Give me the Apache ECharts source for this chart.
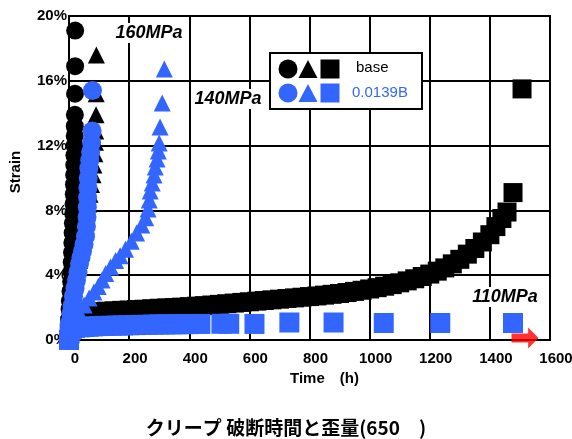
<!DOCTYPE html>
<html><head><meta charset="utf-8">
<script src="https://cdn.jsdelivr.net/npm/echarts@6/dist/echarts.min.js"></script>
<style>html,body{margin:0;padding:0;background:#fff}#c{width:572px;height:439px}</style>
</head><body><div id="c"></div>
<script>
// ---- data: [time (h), strain (%)] ----
const base160 = [[0,0],[0.5,0.7],[1,1.3],[2,1.9],[3,2.4],[5,3.0],[7,3.6],[8,4.2],[9,4.8],[10,5.4],[11,6.0],[12,6.6],[13,7.2],[14,7.8],[15,8.4],[16,9.0],[16.5,9.6],[17,10.2],[17.5,10.8],[18,11.4],[18.5,12.0],[19,12.6],[19.3,13.2],[19.6,13.9],[20,15.2],[20.3,16.9],[20.5,19.1]];
const base140 = [[0,0],[1,0.8],[3,1.4],[6,1.9],[10,2.4],[15,2.9],[20,3.4],[25,3.9],[30,4.4],[35,4.9],[40,5.4],[45,6.0],[50,6.6],[55,7.2],[60,7.8],[65,8.4],[70,9.0],[75,9.6],[80,10.2],[83,10.8],[86,11.5],[88,12.2],[89,12.9],[90,13.9],[90.5,15.2],[91,17.6]];
const base110 = [[0,0],[3,0.9],[8,1.3],[15,1.5],[25,1.6],[40,1.65],[60,1.7],[80,1.72],[100,1.75],[125,1.78],[150,1.8],[175,1.83],[200,1.85],[225,1.88],[250,1.9],[275,1.93],[300,1.96],[325,1.98],[350,2.0],[375,2.03],[400,2.06],[425,2.09],[450,2.12],[475,2.16],[500,2.2],[525,2.24],[550,2.28],[575,2.32],[600,2.36],[625,2.4],[650,2.44],[675,2.48],[700,2.52],[725,2.56],[750,2.6],[775,2.64],[800,2.68],[825,2.72],[850,2.77],[875,2.82],[900,2.87],[925,2.93],[950,3.0],[975,3.07],[1000,3.15],[1025,3.23],[1050,3.32],[1075,3.42],[1100,3.53],[1125,3.65],[1150,3.78],[1175,3.92],[1200,4.07],[1225,4.25],[1250,4.45],[1275,4.7],[1300,4.98],[1325,5.3],[1350,5.65],[1375,6.05],[1400,6.5],[1420,7.0],[1440,7.5],[1457,7.9],[1477,9.1],[1507,15.5]];
const b160 = [[0,0],[1,0.6],[3,1.1],[6,1.6],[10,2.1],[15,2.7],[20,3.2],[25,3.7],[30,4.2],[35,4.7],[40,5.1],[45,5.5],[50,5.9],[55,6.4],[58,7.0],[60,7.6],[61,8.2],[62,8.8],[63,9.4],[64,10.0],[66,10.6],[69,11.1],[72,11.6],[75,12.2],[77,12.9],[78,15.4]];
const b140 = [[0,0],[2,0.7],[5,1.2],[10,1.5],[20,1.7],[33,1.73],[50,2.16],[67,2.6],[83,2.96],[97,3.3],[110,3.7],[122,4.1],[138,4.5],[155,4.9],[170,5.2],[188,5.6],[207,6.1],[225,6.6],[242,7.1],[255,7.55],[263,8.09],[267,8.64],[270,9.2],[277,9.69],[283,10.19],[287,10.68],[293,11.17],[297,11.67],[300,12.16],[303,13.15],[310,14.63],[317,16.73]];
const b110 = [[0,0],[2,0.4],[5,0.6],[10,0.7],[20,0.75],[35,0.78],[50,0.8],[65,0.82],[80,0.84],[100,0.86],[120,0.87],[140,0.88],[160,0.89],[180,0.9],[200,0.91],[220,0.92],[240,0.93],[260,0.94],[280,0.95],[300,0.96],[320,0.96],[340,0.97],[360,0.97],[380,0.98],[400,0.98],[437,0.99],[507,1.0],[533,1.0],[617,0.99],[733,1.08],[880,1.08],[1047,1.05],[1235,1.05],[1477,1.05]];
const ongoing = [[1517,0.12]];
const xTicks = {min:0, max:1600, step:200};
const yTicks = {min:0, max:20, step:4};
const stressLabels = ['160MPa','140MPa','110MPa'];
const legendNames = ['base','0.0139B'];

const BLUE = '#3366FF';
const chart = echarts.init(document.getElementById('c'));
function sc(name, data, symbol, size, color, z){
  return {name, type:'scatter', data, symbol, symbolSize:size, itemStyle:{color, opacity:1}, z, silent:true, clip:false};
}
const bold = {fontFamily:'Liberation Sans, Arial, sans-serif', fontWeight:'bold', color:'#000'};
const ann = (t, x, y) => ({type:'text', x, y, z:50, style:{text:t, fontFamily:'Liberation Sans, Arial, sans-serif', fontWeight:'bold', fontStyle:'italic', fontSize:18, fill:'#000', backgroundColor:'#fff', padding:[1,2], align:'center', verticalAlign:'middle'}});
const leg = (sym, cx, cy, color) => {
  if (sym==='circle') return {type:'circle', shape:{cx, cy, r:9.5}, style:{fill:color}, z:61};
  if (sym==='rect') return {type:'rect', shape:{x:cx-9.5, y:cy-9.5, width:19, height:19}, style:{fill:color}, z:61};
  return {type:'polygon', shape:{points:[[cx,cy-9],[cx+9.5,cy+9],[cx-9.5,cy+9]]}, style:{fill:color}, z:61};
};
chart.setOption({
  animation:false,
  backgroundColor:'#fff',
  title:{text:'クリープ 破断時間と歪量(650　)', left:'center', top:413,
    textStyle:{fontFamily:'Noto Sans CJK JP, sans-serif', fontWeight:'bold', fontSize:19, color:'#000'}},
  grid:{left:69, right:22, top:16, bottom:99, show:true, borderColor:'#000', borderWidth:2, backgroundColor:'#fff', outerBoundsMode:'none', containLabel:false},
  xAxis:{type:'value', min:xTicks.min, max:xTicks.max, interval:xTicks.step,
    name:'Time　(h)', nameLocation:'middle', nameGap:30,
    nameTextStyle:Object.assign({fontSize:15, padding:[0,0,0,30]}, bold),
    axisLine:{lineStyle:{color:'#000', width:2}}, axisTick:{show:false},
    axisLabel:Object.assign({margin:11, fontSize:15, padding:[0,0,0,12], formatter:v => String(v), hideOverlap:false}, bold),
    splitLine:{lineStyle:{color:'#000', width:2}}},
  yAxis:{type:'value', min:yTicks.min, max:yTicks.max, interval:yTicks.step,
    name:'Strain', nameLocation:'middle', nameGap:46, nameRotate:90,
    nameTextStyle:Object.assign({fontSize:15, padding:[0,0,0,12]}, bold),
    axisLine:{lineStyle:{color:'#000', width:2}}, axisTick:{show:false},
    axisLabel:Object.assign({margin:2, fontSize:15, formatter:'{value}%', padding:[10,0,0,0]}, bold),
    splitLine:{lineStyle:{color:'#000', width:2}}},
  series:[
    sc('base 110', base110, 'rect', 19, '#000', 2),
    sc('base 140', base140, 'triangle', 17, '#000', 3),
    sc('base 160', base160, 'circle', 18, '#000', 4),
    sc('B 110', b110, 'rect', 20, BLUE, 5),
    sc('B 140', b140, 'triangle', 17, BLUE, 6),
    sc('B 160', b160, 'circle', 19, BLUE, 7),
    {type:'scatter', data:ongoing, symbol:'path://M0,6 L16,6 L16,0 L26,10.5 L16,21 L16,15 L0,15 Z', symbolSize:[27,21], itemStyle:{color:'#FF0000'}, z:8, silent:true, clip:false}
  ],
  graphic:[
    ann(stressLabels[0], 149, 33),
    ann(stressLabels[1], 228, 99),
    ann(stressLabels[2], 505, 297),
    {type:'rect', shape:{x:270, y:53, width:152, height:56}, style:{fill:'#fff', stroke:'#000', lineWidth:2}, z:60},
    leg('circle', 288, 69, '#000'), leg('triangle', 308, 69, '#000'), leg('rect', 330, 69, '#000'),
    leg('circle', 288, 93, BLUE), leg('triangle', 308, 93, BLUE), leg('rect', 330, 93, BLUE),
    {type:'text', x:356, y:68, z:61, style:{text:legendNames[0], fontFamily:'Liberation Sans, Arial, sans-serif', fontSize:15, fill:'#000', verticalAlign:'middle'}},
    {type:'text', x:352, y:93, z:61, style:{text:legendNames[1], fontFamily:'Liberation Sans, Arial, sans-serif', fontSize:15, fill:BLUE, verticalAlign:'middle'}}
  ]
});
</script></body></html>
